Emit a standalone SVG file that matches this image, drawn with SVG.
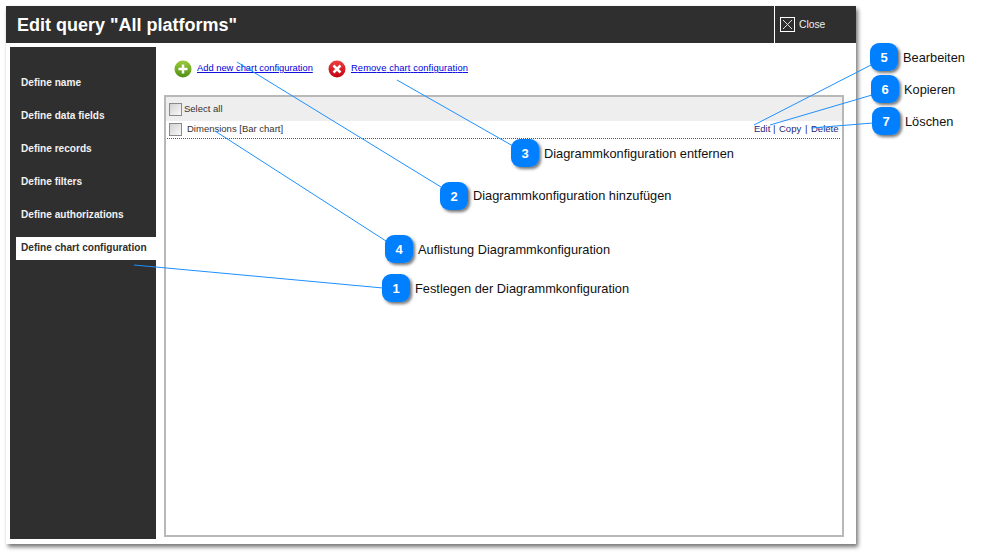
<svg xmlns="http://www.w3.org/2000/svg" width="981" height="553" viewBox="0 0 981 553">
<defs>
<filter id="winShadow" x="-5%" y="-5%" width="110%" height="110%"><feDropShadow dx="2" dy="3" stdDeviation="2" flood-color="#000" flood-opacity="0.55"/></filter>
<filter id="badgeShadow" x="-30%" y="-30%" width="170%" height="170%"><feDropShadow dx="2" dy="2" stdDeviation="1.5" flood-color="#000" flood-opacity="0.55"/></filter>
<linearGradient id="green" x1="0" y1="0" x2="0" y2="1"><stop offset="0" stop-color="#9ccb3b"/><stop offset="1" stop-color="#4f8f14"/></linearGradient>
<linearGradient id="red" x1="0" y1="0" x2="0" y2="1"><stop offset="0" stop-color="#f04040"/><stop offset="1" stop-color="#c00010"/></linearGradient>
<linearGradient id="chk" x1="0" y1="0" x2="1" y2="1"><stop offset="0" stop-color="#d0d0d0"/><stop offset="1" stop-color="#fbfbfb"/></linearGradient>
</defs>
<style>
text{font-family:"Liberation Sans",Arial,sans-serif}
.nav{font-size:10.1px;font-weight:bold;fill:#f2f2f2}
.link{font-size:9.35px;fill:#0000dd;text-decoration:underline}
.small{font-size:9.5px;fill:#333}
.act{font-size:9.5px;fill:#1a2a80}
.lbl{font-size:12.8px;fill:#111}
.num{font-size:13px;font-weight:bold;fill:#fff;text-anchor:middle}
.badge{fill:#0080ff;filter:url(#badgeShadow)}
.chk{fill:url(#chk);stroke:#8a8a8a;stroke-width:1}
.conn line{stroke:#1e90ff;stroke-width:1}
</style>
<rect width="981" height="553" fill="#fff"/>
<g id="window">
<rect x="6" y="6" width="850" height="538" fill="#fff" filter="url(#winShadow)"/>
<rect x="6" y="6" width="850" height="37" fill="#2f2f2f"/>
<text x="17" y="31" font-size="18" font-weight="bold" fill="#fff">Edit query "All platforms"</text>
<rect x="774" y="6" width="1" height="37" fill="#fff"/>
<rect x="780.500" y="17.500" width="14" height="14" fill="none" stroke="#fff" stroke-width="1"/>
<path d="M783 20l9 9M792 20l-9 9" stroke="#ddd" stroke-width="1" fill="none"/>
<text x="799" y="28" font-size="10.300" fill="#eee">Close</text>
</g>
<g id="sidebar">
<rect x="10" y="47" width="146" height="492" fill="#2f2f2f"/>
<rect x="16" y="237" width="140" height="23" fill="#fff"/>
<text class="nav" x="21" y="86">Define name</text>
<text class="nav" x="21" y="119">Define data fields</text>
<text class="nav" x="21" y="152">Define records</text>
<text class="nav" x="21" y="185">Define filters</text>
<text class="nav" x="21" y="218">Define authorizations</text>
<text class="nav" x="21" y="251" style="fill:#2f2f2f">Define chart configuration</text>
</g>
<g id="toolbar">
<circle cx="183" cy="69" r="8.500" fill="url(#green)"/>
<path d="M183 64.500v9M178.500 69h9" stroke="#fff" stroke-width="2.500"/>
<text class="link" x="197" y="71">Add new chart configuration</text>
<circle cx="337" cy="69" r="8.500" fill="url(#red)"/>
<path d="M333.500 65.500l7 7M340.500 65.500l-7 7" stroke="#fff" stroke-width="2.500"/>
<text class="link" x="351" y="71" textLength="117">Remove chart configuration</text>
</g>
<g id="list">
<rect x="165" y="96" width="678" height="440" fill="#fff" stroke="#b8b8b8" stroke-width="2"/>
<rect x="166" y="97" width="676" height="24" fill="#eeeeee"/>
<rect class="chk" x="169.500" y="103.500" width="12" height="12"/>
<text class="small" x="184" y="112">Select all</text>
<rect class="chk" x="169.500" y="123.500" width="12" height="12"/>
<text class="small" x="187" y="132">Dimensions [Bar chart]</text>
<text class="act" x="754" y="132">Edit</text>
<text class="act" x="773" y="132">|</text>
<text class="act" x="779" y="132">Copy</text>
<text class="act" x="805" y="132">|</text>
<text class="act" x="811" y="132">Delete</text>
<line x1="167" y1="138.500" x2="841" y2="138.500" stroke="#2a5fa8" stroke-width="1" stroke-dasharray="1 1"/>
</g>
<g id="connectors" class="conn">
<line x1="134" y1="265" x2="383" y2="288"/>
<line x1="237" y1="62" x2="441" y2="187"/>
<line x1="397" y1="80" x2="513" y2="146"/>
<line x1="215" y1="131" x2="386" y2="241"/>
<line x1="754" y1="125" x2="871" y2="65"/>
<line x1="770" y1="125" x2="872" y2="95"/>
<line x1="811" y1="128" x2="873" y2="123"/>
</g>
<g id="node1"><rect class="badge" x="382" y="274" width="28" height="28" rx="9"/><text class="num" x="396" y="293">1</text><text class="lbl" x="415" y="293">Festlegen der Diagrammkonfiguration</text></g>
<g id="node2"><rect class="badge" x="440" y="182" width="28" height="28" rx="9"/><text class="num" x="454" y="201">2</text><text class="lbl" x="473" y="200">Diagrammkonfiguration hinzufügen</text></g>
<g id="node3"><rect class="badge" x="511" y="139" width="28" height="28" rx="9"/><text class="num" x="525" y="158">3</text><text class="lbl" x="544" y="158">Diagrammkonfiguration entfernen</text></g>
<g id="node4"><rect class="badge" x="385" y="235" width="28" height="28" rx="9"/><text class="num" x="399" y="254">4</text><text class="lbl" x="418" y="254">Auflistung Diagrammkonfiguration</text></g>
<g id="node5"><rect class="badge" x="870" y="43" width="28" height="28" rx="9"/><text class="num" x="884" y="62">5</text><text class="lbl" x="903" y="62">Bearbeiten</text></g>
<g id="node6"><rect class="badge" x="871" y="75" width="28" height="28" rx="9"/><text class="num" x="885" y="94">6</text><text class="lbl" x="904" y="94">Kopieren</text></g>
<g id="node7"><rect class="badge" x="872" y="107" width="28" height="28" rx="9"/><text class="num" x="886" y="126">7</text><text class="lbl" x="905" y="126">Löschen</text></g>
</svg>
